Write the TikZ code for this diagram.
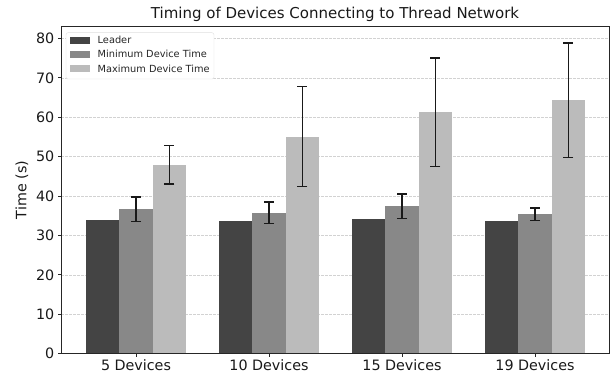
\documentclass[tikz,border=0pt]{standalone}
\usepackage{fontspec}
\setmainfont{DejaVu Sans}
\usetikzlibrary{arrows.meta}
\definecolor{leadgray}{HTML}{444444}
\definecolor{mingray}{HTML}{888888}
\definecolor{maxgray}{HTML}{BBBBBB}

\begin{document}
\begin{tikzpicture}[x=1pt, y=1pt,
  errbar/.style={{Bar[width=10pt]}-{Bar[width=10pt]}, line width=1.5pt, black!90},
  gridline/.style={gray!35, line width=0.5pt, dash pattern=on 2.5pt off 1.5pt},
  ticklabel/.style={font=\fontsize{14.3}{16}\selectfont, text=black!90},
  keytext/.style={font=\fontsize{9.8}{11}\selectfont, anchor=west, inner sep=0pt, text=black!85},
]
  \useasboundingbox (0,0) rectangle (611,377);

  % Plot area in data units
  \begin{scope}[shift={(136,23.3)}, x=133pt, y=3.94pt]
    % Grid
    \foreach \v in {10,20,...,80}
      \draw[gridline] (-0.5625,\v) -- (3.5625,\v);

    % 5 devices
    \fill[leadgray] (-0.375,0) rectangle (-0.125,33.9);
    \fill[mingray]  (-0.125,0) rectangle (0.125,36.6);
    \fill[maxgray]  (0.125,0)  rectangle (0.375,48.0);
    % 10 devices
    \fill[leadgray] (0.625,0) rectangle (0.875,33.6);
    \fill[mingray]  (0.875,0) rectangle (1.125,35.8);
    \fill[maxgray]  (1.125,0) rectangle (1.375,55.1);
    % 15 devices
    \fill[leadgray] (1.625,0) rectangle (1.875,34.2);
    \fill[mingray]  (1.875,0) rectangle (2.125,37.4);
    \fill[maxgray]  (2.125,0) rectangle (2.375,61.3);
    % 19 devices
    \fill[leadgray] (2.625,0) rectangle (2.875,33.6);
    \fill[mingray]  (2.875,0) rectangle (3.125,35.4);
    \fill[maxgray]  (3.125,0) rectangle (3.375,64.3);

    % Error bars
    \draw[errbar] (0,33.3)  -- (0,40.0);
    \draw[errbar] (0.25,42.9) -- (0.25,53.0);
    \draw[errbar] (1,32.9)  -- (1,38.7);
    \draw[errbar] (1.25,42.2) -- (1.25,68.0);
    \draw[errbar] (2,34.1)  -- (2,40.7);
    \draw[errbar] (2.25,47.3) -- (2.25,75.3);
    \draw[errbar] (3,33.6)  -- (3,37.2);
    \draw[errbar] (3.25,49.6) -- (3.25,79.0);

    % Frame and ticks
    \draw[line width=0.8pt, black!85] (-0.5625,0) rectangle (3.5625,83);
    \foreach \v in {0,10,...,80}
      \draw[line width=0.8pt, black!85] (-0.5625,\v) -- ++(-3.5pt,0)
        node[left, ticklabel, inner sep=3pt] (y\v) {\v};
    \foreach \i/\n in {0/5,1/10,2/15,3/19}
      \draw[line width=0.8pt, black!85] (\i,0) -- ++(0,-3.5pt)
        node[below, ticklabel, inner sep=2.5pt] (x\i) {\n\ Devices};
  \end{scope}

  % Labels
  \node[ticklabel, rotate=90] (ylab) at (22,187) {Time (s)};
  \node[font=\fontsize{15}{17}\selectfont, text=black!90] (title) at (335,363) {Timing of Devices Connecting to Thread Network};

  % Legend
  \draw[gray!25, fill=white, rounded corners=2pt] (66,298) rectangle (214,344.3);
  \fill[leadgray] (70,333.2) rectangle (90,340.2);
  \fill[mingray]  (70,319.2) rectangle (90,326.2);
  \fill[maxgray]  (70,304.8) rectangle (90,311.8);
  \node[keytext] (kl) at (97.5,336.7) {Leader};
  \node[keytext] (kmin) at (97.5,322.7) {Minimum Device Time};
  \node[keytext] (kmax) at (97.5,308.3) {Maximum Device Time};
\end{tikzpicture}
\end{document}
